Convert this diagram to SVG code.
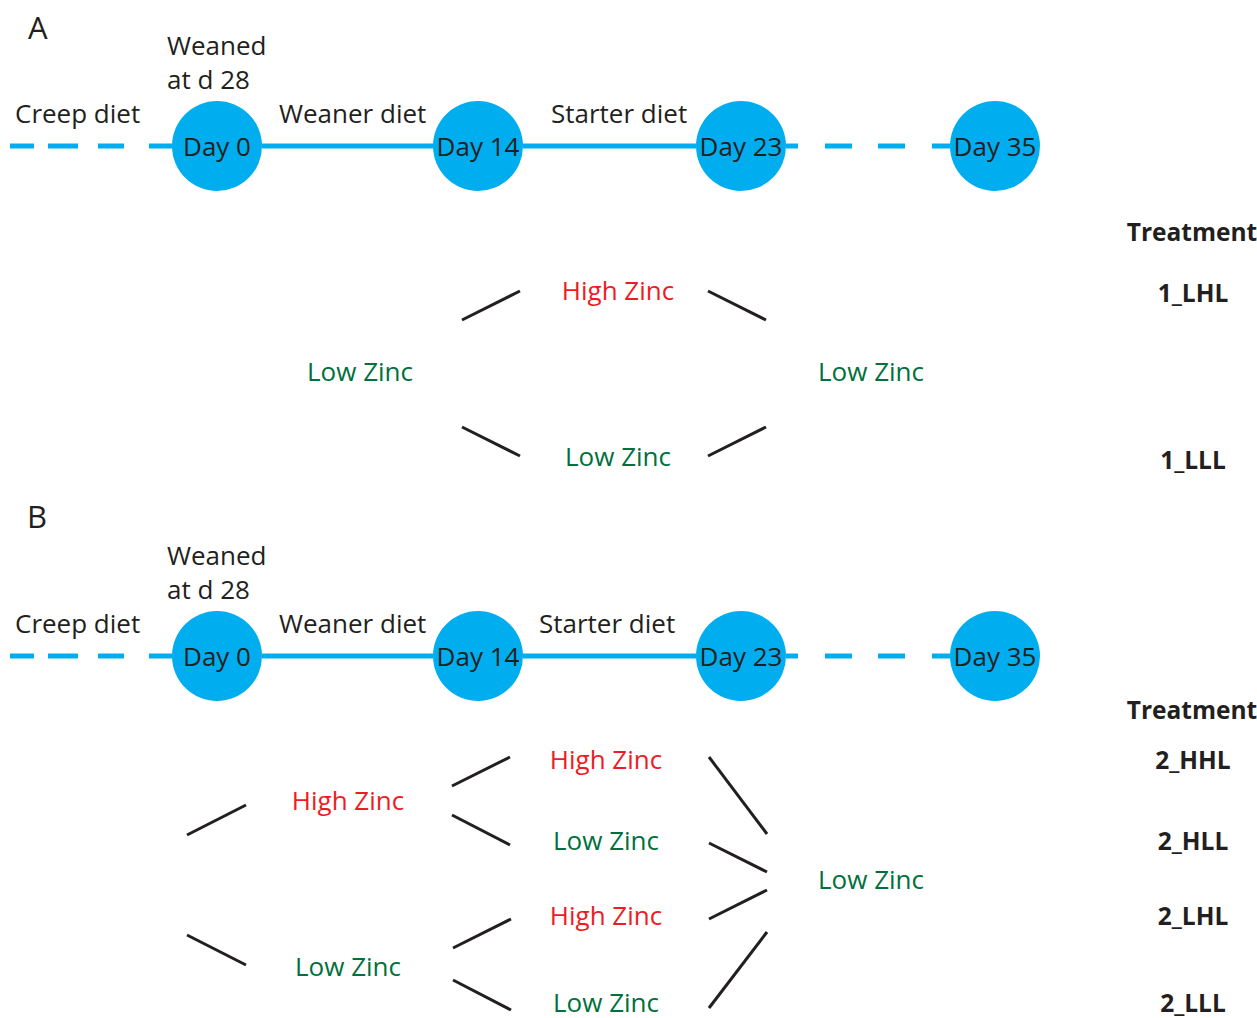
<svg xmlns="http://www.w3.org/2000/svg" width="1257" height="1018" viewBox="0 0 1257 1018">
<style>
text{font-family:"Open Sans","Noto Sans",sans-serif;font-size:26px;fill:#231F20}
.m{text-anchor:middle}
.r{fill:#ED1C24}
.g{fill:#00703C}
.p{font-size:31px}
.b{font-weight:bold;font-size:24.5px;text-anchor:middle}
.tl{stroke:#00AEEF;stroke-width:5;fill:none}
.br{stroke:#231F20;stroke-width:3;fill:none}
circle{fill:#00AEEF}
</style>
<rect width="1257" height="1018" fill="#fff"/>
<g id="connectors">
<path class="tl" d="M10 146H34M48 146H78M98 146H124M149 146H172"/>
<line class="tl" x1="262" y1="146" x2="433" y2="146"/>
<line class="tl" x1="523" y1="146" x2="696" y2="146"/>
<path class="tl" d="M786 146H798M825 146H852M878 146H905M932 146H950"/>
<path class="tl" d="M10 656H34M48 656H78M98 656H124M149 656H172"/>
<line class="tl" x1="262" y1="656" x2="433" y2="656"/>
<line class="tl" x1="523" y1="656" x2="696" y2="656"/>
<path class="tl" d="M786 656H798M825 656H852M878 656H905M932 656H950"/>
<line class="br" x1="462" y1="320" x2="520" y2="291"/>
<line class="br" x1="708" y1="291" x2="766" y2="320"/>
<line class="br" x1="462" y1="427" x2="520" y2="456"/>
<line class="br" x1="708" y1="456" x2="766" y2="427"/>
<line class="br" x1="187" y1="835" x2="246" y2="805"/>
<line class="br" x1="187" y1="935" x2="246" y2="965"/>
<line class="br" x1="452" y1="786" x2="510" y2="757"/>
<line class="br" x1="452" y1="815" x2="510" y2="845"/>
<line class="br" x1="453" y1="948" x2="511" y2="919"/>
<line class="br" x1="453" y1="980" x2="511" y2="1010"/>
<line class="br" x1="709" y1="757" x2="767" y2="834"/>
<line class="br" x1="709" y1="843" x2="767" y2="872"/>
<line class="br" x1="709" y1="919" x2="767" y2="890"/>
<line class="br" x1="709" y1="1008" x2="767" y2="932"/>
</g>
<g id="labelsA">
<text class="p" x="28" y="39">A</text>
<text x="167" y="55">Weaned</text>
<text x="167" y="89">at d 28</text>
<text x="15" y="123">Creep diet</text>
<text x="279" y="123">Weaner diet</text>
<text x="551" y="123">Starter diet</text>
</g>
<g id="day0A"><circle cx="217" cy="146" r="45"/><text class="m" x="217" y="156">Day 0</text></g>
<g id="day14A"><circle cx="478" cy="146" r="45"/><text class="m" x="478" y="156">Day 14</text></g>
<g id="day23A"><circle cx="741" cy="146" r="45"/><text class="m" x="741" y="156">Day 23</text></g>
<g id="day35A"><circle cx="995" cy="146" r="45"/><text class="m" x="995" y="156">Day 35</text></g>
<g id="treeA">
<text class="m g" x="360" y="381">Low Zinc</text>
<text class="m r" x="618" y="300">High Zinc</text>
<text class="m g" x="618" y="466">Low Zinc</text>
<text class="m g" x="871" y="381">Low Zinc</text>
<text class="b" x="1192" y="241">Treatment</text>
<text class="b" x="1193" y="302">1_LHL</text>
<text class="b" x="1193" y="469">1_LLL</text>
</g>
<g id="labelsB">
<text class="p" x="27" y="528">B</text>
<text x="167" y="565">Weaned</text>
<text x="167" y="599">at d 28</text>
<text x="15" y="633">Creep diet</text>
<text x="279" y="633">Weaner diet</text>
<text x="539" y="633">Starter diet</text>
</g>
<g id="day0B"><circle cx="217" cy="656" r="45"/><text class="m" x="217" y="666">Day 0</text></g>
<g id="day14B"><circle cx="478" cy="656" r="45"/><text class="m" x="478" y="666">Day 14</text></g>
<g id="day23B"><circle cx="741" cy="656" r="45"/><text class="m" x="741" y="666">Day 23</text></g>
<g id="day35B"><circle cx="995" cy="656" r="45"/><text class="m" x="995" y="666">Day 35</text></g>
<g id="treeB">
<text class="m r" x="348" y="810">High Zinc</text>
<text class="m g" x="348" y="976">Low Zinc</text>
<text class="m r" x="606" y="769">High Zinc</text>
<text class="m g" x="606" y="850">Low Zinc</text>
<text class="m r" x="606" y="925">High Zinc</text>
<text class="m g" x="606" y="1012">Low Zinc</text>
<text class="m g" x="871" y="889">Low Zinc</text>
<text class="b" x="1192" y="719">Treatment</text>
<text class="b" x="1193" y="769">2_HHL</text>
<text class="b" x="1193" y="850">2_HLL</text>
<text class="b" x="1193" y="925">2_LHL</text>
<text class="b" x="1193" y="1012">2_LLL</text>
</g>
</svg>
